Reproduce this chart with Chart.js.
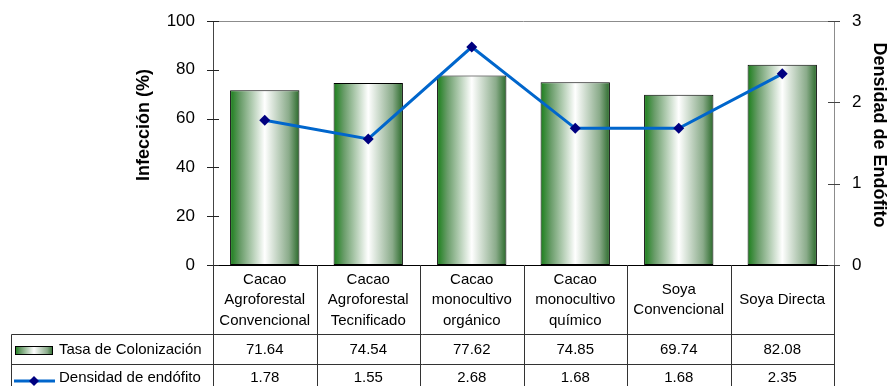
<!DOCTYPE html>
<html>
<head>
<meta charset="UTF-8">
<title>Infección y densidad de endófito</title>
<script src="https://cdn.jsdelivr.net/npm/chart.js@4.4.0/dist/chart.umd.min.js"></script>
<style>
  body { margin: 0; background: #fff; }
  #wrap { width: 893px; height: 386px; position: relative; }
</style>
</head>
<body>
<div id="wrap"><canvas id="myChart"></canvas></div>
<script>
const categorias = [
  ['Cacao', 'Agroforestal', 'Convencional'],
  ['Cacao', 'Agroforestal', 'Tecnificado'],
  ['Cacao', 'monocultivo', 'orgánico'],
  ['Cacao', 'monocultivo', 'químico'],
  ['Soya', 'Convencional'],
  ['Soya Directa']
];
const tasaColonizacion = [71.64, 74.54, 77.62, 74.85, 69.74, 82.08];
const densidadEndofito = [1.78, 1.55, 2.68, 1.68, 1.68, 2.35];
const ticksInfeccion = [0, 20, 40, 60, 80, 100];
const ticksDensidad = [0, 1, 2, 3];
const serieBarras = 'Tasa de Colonización';
const serieLinea = 'Densidad de endófito';
const tituloIzq = 'Infección (%)';
const tituloDer = 'Densidad de Endófito';

const fuente = '"Liberation Sans", Arial, sans-serif';
const anchoBarra = 0.67;

function gradienteVerde(ctx, x0, x1) {
  const g = ctx.createLinearGradient(x0, 0, x1, 0);
  g.addColorStop(0, '#1a7f1a');
  g.addColorStop(0.15, '#6a9d6a');
  g.addColorStop(0.5, '#ffffff');
  g.addColorStop(0.85, '#8aab8a');
  g.addColorStop(1, '#2a6a2a');
  return g;
}

function linea(ctx, x0, y0, x1, y1, color) {
  ctx.strokeStyle = color;
  ctx.lineWidth = 1;
  ctx.beginPath();
  ctx.moveTo(x0, y0);
  ctx.lineTo(x1, y1);
  ctx.stroke();
}

// tabla de datos bajo el eje, títulos y marcas de los ejes
const tablaPlugin = {
  id: 'tabla',
  afterDraw(chart) {
    const { ctx, chartArea: a, scales } = chart;
    const x = scales.x, y = scales.y, y1 = scales.y1;
    const n = categorias.length;
    const paso = a.width / n;
    const H = chart.height;
    ctx.save();

    // borde superior del área
    linea(ctx, a.left, a.top + 0.5, a.right, a.top + 0.5, '#8c8c8c');

    // marcas de los ejes
    y.ticks.forEach(t => {
      const py = Math.round(y.getPixelForValue(t.value)) + 0.5;
      linea(ctx, a.left - 6, py, a.left + 6, py, '#222');
    });
    y1.ticks.forEach(t => {
      const py = Math.round(y1.getPixelForValue(t.value)) + 0.5;
      linea(ctx, a.right - 6, py, a.right + 6, py, '#444');
    });

    // rejilla de la tabla
    const fila1 = 334.5, fila2 = 364.5, izq = 11.5;
    for (let i = 0; i <= n; i++) {
      const bx = Math.round(x.getPixelForValue(i) - paso / 2) + 0.5;
      linea(ctx, bx, a.bottom, bx, H, '#333');
    }
    linea(ctx, izq, fila1, a.right, fila1, '#333');
    linea(ctx, izq, fila2, a.right, fila2, '#333');
    linea(ctx, izq, fila1, izq, H, '#333');

    // textos de la tabla
    ctx.fillStyle = '#000';
    ctx.font = '15px ' + fuente;
    ctx.textAlign = 'center';
    ctx.textBaseline = 'middle';
    categorias.forEach((c, i) => {
      const cx = x.getPixelForValue(i);
      const alto = 20.5;
      const y0 = 300 - (c.length - 1) * alto / 2;
      c.forEach((t, k) => ctx.fillText(t, cx, y0 + k * alto));
      ctx.fillText(tasaColonizacion[i].toFixed(2), cx, 350);
      ctx.fillText(densidadEndofito[i].toFixed(2), cx, 378);
    });

    // leyenda dentro de la tabla
    ctx.textAlign = 'left';
    ctx.fillText(serieBarras, 59, 350);
    ctx.fillText(serieLinea, 59, 378);
    ctx.fillStyle = gradienteVerde(ctx, 15, 53);
    ctx.fillRect(15, 346, 38, 9);
    ctx.strokeStyle = '#000';
    ctx.strokeRect(15.5, 346.5, 37, 8);
    ctx.strokeStyle = '#0066cc';
    ctx.lineWidth = 3;
    ctx.beginPath();
    ctx.moveTo(14, 381);
    ctx.lineTo(55, 381);
    ctx.stroke();
    ctx.fillStyle = '#000080';
    ctx.beginPath();
    ctx.moveTo(34, 376); ctx.lineTo(39, 381); ctx.lineTo(34, 386); ctx.lineTo(29, 381);
    ctx.closePath();
    ctx.fill();

    // títulos de los ejes
    ctx.fillStyle = '#000';
    ctx.font = 'bold 18px ' + fuente;
    ctx.textAlign = 'center';
    ctx.save();
    ctx.translate(144, 125);
    ctx.rotate(-Math.PI / 2);
    ctx.fillText(tituloIzq, 0, 0);
    ctx.restore();
    ctx.save();
    ctx.translate(879, 135);
    ctx.rotate(Math.PI / 2);
    ctx.fillText(tituloDer, 0, 0);
    ctx.restore();

    ctx.restore();
  }
};

const ctx = document.getElementById('myChart').getContext('2d');
new Chart(ctx, {
  type: 'bar',
  data: {
    labels: categorias.map(c => c.join(' ')),
    datasets: [
      {
        type: 'line',
        label: serieLinea,
        data: densidadEndofito,
        yAxisID: 'y1',
        borderColor: '#0066cc',
        borderWidth: 3,
        pointStyle: 'rectRot',
        pointRadius: 5.5,
        pointBackgroundColor: '#000080',
        pointBorderColor: '#000080',
        pointBorderWidth: 0,
        tension: 0,
        order: 1
      },
      {
        label: serieBarras,
        data: tasaColonizacion,
        yAxisID: 'y',
        backgroundColor(c) {
          const chart = c.chart;
          const a = chart.chartArea;
          if (!a || c.type !== 'data') return '#7aa57a';
          const cx = chart.scales.x.getPixelForValue(c.dataIndex);
          const w = a.width / categorias.length * anchoBarra;
          return gradienteVerde(chart.ctx, cx - w / 2, cx + w / 2);
        },
        borderColor: '#000',
        borderWidth: 1,
        borderSkipped: false,
        barPercentage: anchoBarra,
        categoryPercentage: 1,
        order: 2
      }
    ]
  },
  options: {
    responsive: true,
    maintainAspectRatio: false,
    devicePixelRatio: 1,
    animation: false,
    layout: { padding: { top: 21, left: 0, right: 0, bottom: 0 } },
    plugins: { legend: { display: false }, tooltip: { enabled: false } },
    scales: {
      x: {
        offset: true,
        grid: { display: false },
        ticks: { display: false },
        border: { color: '#000', width: 1 },
        afterFit(s) { s.height = 121; }
      },
      y: {
        position: 'left',
        min: 0,
        max: 100,
        afterBuildTicks(s) { s.ticks = ticksInfeccion.map(v => ({ value: v })); },
        ticks: { color: '#000', font: { size: 17, family: fuente }, padding: 10 },
        grid: { display: false },
        border: { color: '#444', width: 1 },
        afterFit(s) { s.width = 213; }
      },
      y1: {
        position: 'right',
        min: 0,
        max: 3,
        afterBuildTicks(s) { s.ticks = ticksDensidad.map(v => ({ value: v })); },
        ticks: { color: '#000', font: { size: 17, family: fuente }, padding: 10 },
        grid: { display: false },
        border: { color: '#8c8c8c', width: 1 },
        afterFit(s) { s.width = 59; }
      }
    }
  },
  plugins: [tablaPlugin]
});
</script>
</body>
</html>
